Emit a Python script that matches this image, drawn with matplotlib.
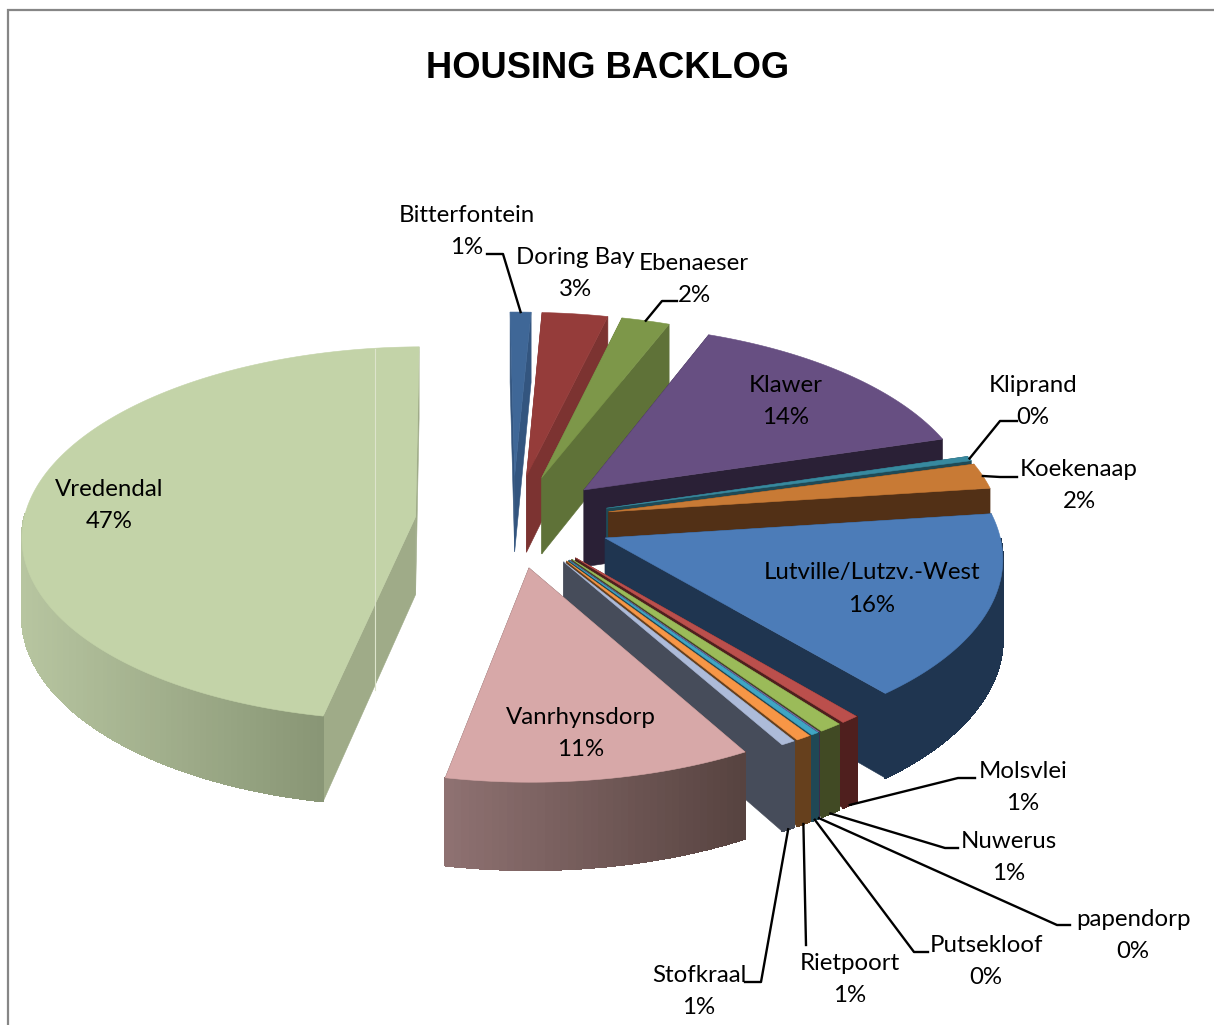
import numpy as np
import matplotlib
matplotlib.use('Agg')
import matplotlib.pyplot as plt
from matplotlib.colors import to_rgb
from matplotlib.patches import Polygon

places = ['Bitterfontein', 'Doring Bay', 'Ebenaeser', 'Klawer', 'Kliprand', 'Koekenaap',
          'Lutville/Lutzv.-West', 'Molsvlei', 'Nuwerus', 'papendorp', 'Putsekloof',
          'Rietpoort', 'Stofkraal', 'Vanrhynsdorp', 'Vredendal']
backlog = [0.95, 3.0, 2.2, 14.38, 0.4, 2.2, 15.94, 0.68, 0.85, 0.03, 0.28, 0.56, 0.53, 11.3, 46.7]
explode = [0.25] * 15

top_colors = ['#3f6797', '#953c3a', '#7d9749', '#674f82', '#37899f', '#c87a35', '#4c7cb8',
              '#bb4f4c', '#9bbb59', '#7f62a0', '#40a5c4', '#f79646', '#adbbd9', '#d7a8a8', '#c3d3a8']
wall_colors = ['#33557f', '#7c3331', '#5f7238', '#2a2036', '#1f4a56', '#523016', '#1f3550',
               '#4f1f1e', '#414a24', '#3a2c4a', '#1f4855', '#66401d', '#464c5a', '#5a4644', '#9fab88']
curve_light = {'Vredendal': '#b7c5a0', 'Vanrhynsdorp': '#8f7272'}
curve_dark = {'Vredendal': '#7a8768', 'Vanrhynsdorp': '#574340'}

# pixel centre of each label, first line
label_pos = {
    'Bitterfontein': (467, 213), 'Doring Bay': (575, 256), 'Ebenaeser': (694, 262),
    'Klawer': (786, 383), 'Kliprand': (1033, 383), 'Koekenaap': (1079, 468),
    'Lutville/Lutzv.-West': (872, 571), 'Molsvlei': (1023, 770), 'Nuwerus': (1009, 840),
    'papendorp': (1133, 917), 'Putsekloof': (986, 944), 'Rietpoort': (850, 961),
    'Stofkraal': (699, 974), 'Vanrhynsdorp': (581, 715), 'Vredendal': (109, 488),
}
# label side of each leader line: text end, elbow, depth of the anchor on the slice
leaders = {
    'Bitterfontein': ((487, 254), (503, 254), 0), 'Ebenaeser': ((677, 301), (662, 301), 0),
    'Kliprand': ((1017, 421), (1000, 421), 0), 'Koekenaap': ((1017, 477), (1000, 477), 0),
    'Molsvlei': ((975, 778), (958, 778), 1), 'Nuwerus': ((958, 848), (945, 848), 1),
    'papendorp': ((1070, 925), (1057, 925), 1), 'Putsekloof': ((928, 952), (914, 952), 1),
    'Rietpoort': ((806, 945), (806, 945), 1), 'Stofkraal': ((745, 982), (761, 982), 1),
}

CX, CY = 513, 521
RX, RY = 392, 186
DEPTH = 78
PERSP = 0.09
START_ANGLE = np.radians(-0.72)


def project(u, v, z=0.0):
    w = 1.0 / (1.0 - PERSP * v)
    return CX + RX * u * w, CY + (RY * v + DEPTH * z) * w


def polar(theta, r=1.0):
    return r * np.sin(theta), -r * np.cos(theta)


fig = plt.figure(figsize=(12.14, 10.25), dpi=100)
ax = fig.add_axes([0, 0, 1, 1])
ax.set_xlim(0, 1214)
ax.set_ylim(1025, 0)
ax.axis('off')

ax.plot([8, 8, 1214], [1025, 10, 10], color='#868686', lw=1.6, solid_joinstyle='miter')

shares = np.array(backlog) / sum(backlog) * 2 * np.pi
ends = np.cumsum(shares) + START_ANGLE
starts = ends - shares


def face(points, color, smooth=True):
    ax.add_patch(Polygon(points, closed=True, facecolor=color, edgecolor=color,
                         lw=0.4 if smooth else 0.8, antialiased=smooth))


def draw_slice(i):
    name = places[i]
    mid = (starts[i] + ends[i]) / 2
    du, dv = polar(mid, explode[i])
    thetas = np.linspace(starts[i], ends[i], max(3, int(shares[i] * 60)))
    rim = [(polar(t)[0] + du, polar(t)[1] + dv) for t in thetas]
    top = [project(du, dv)] + [project(u, v) for u, v in rim]

    # walls, the far ones first
    walls = []
    for uv in (rim[0], rim[-1]):
        quad = [project(du, dv), project(*uv), project(*uv, 1), project(du, dv, 1)]
        walls.append((np.mean([p[1] for p in quad]), quad))
    for y, quad in sorted(walls, key=lambda w: w[0]):
        face(quad, wall_colors[i])

    # only the near part of the round wall shows
    light = np.array(to_rgb(curve_light.get(name, wall_colors[i])))
    dark = np.array(to_rgb(curve_dark.get(name, wall_colors[i])))
    xs = [project(u, v)[0] for u, v in rim]
    for a, b, t in zip(rim[:-1], rim[1:], thetas):
        if -np.cos(t) < 0:
            continue
        quad = [project(*a), project(*b), project(*b, 1), project(*a, 1)]
        f = (project(*a)[0] - min(xs)) / max(max(xs) - min(xs), 1)
        face(quad, tuple(light + (dark - light) * f), smooth=False)

    face(top, top_colors[i])


order = sorted(range(len(places)), key=lambda i: project(
    *(np.array(polar((starts[i] + ends[i]) / 2, explode[i] + 0.6))))[1])
for i in order:
    draw_slice(i)

# pale seam that runs down the big slice
ax.plot([375, 375], [349, 690], color='#dde4cc', lw=0.8, zorder=3)

for i, name in enumerate(places):
    pct = f'{round(backlog[i] / sum(backlog) * 100)}%'
    x, y = label_pos[name]
    ax.text(x, y + 2, name, ha='center', va='center', fontsize=17.3, family='Lato', color='black')
    ax.text(x, y + 34, pct, ha='center', va='center', fontsize=17.3, family='Lato', color='black')
    if name in leaders:
        start, elbow, z = leaders[name]
        mid = (starts[i] + ends[i]) / 2
        du, dv = polar(mid, explode[i])
        u, v = polar(mid)
        ax.plot(*zip(start, elbow, project(u + du, v + dv, z)), color='black', lw=1.7, zorder=5)

ax.text(608, 68, 'HOUSING BACKLOG', ha='center', va='center', fontsize=26.2,
        family='Liberation Sans', fontweight='bold', color='black')

fig.savefig('out.png', dpi=100)
